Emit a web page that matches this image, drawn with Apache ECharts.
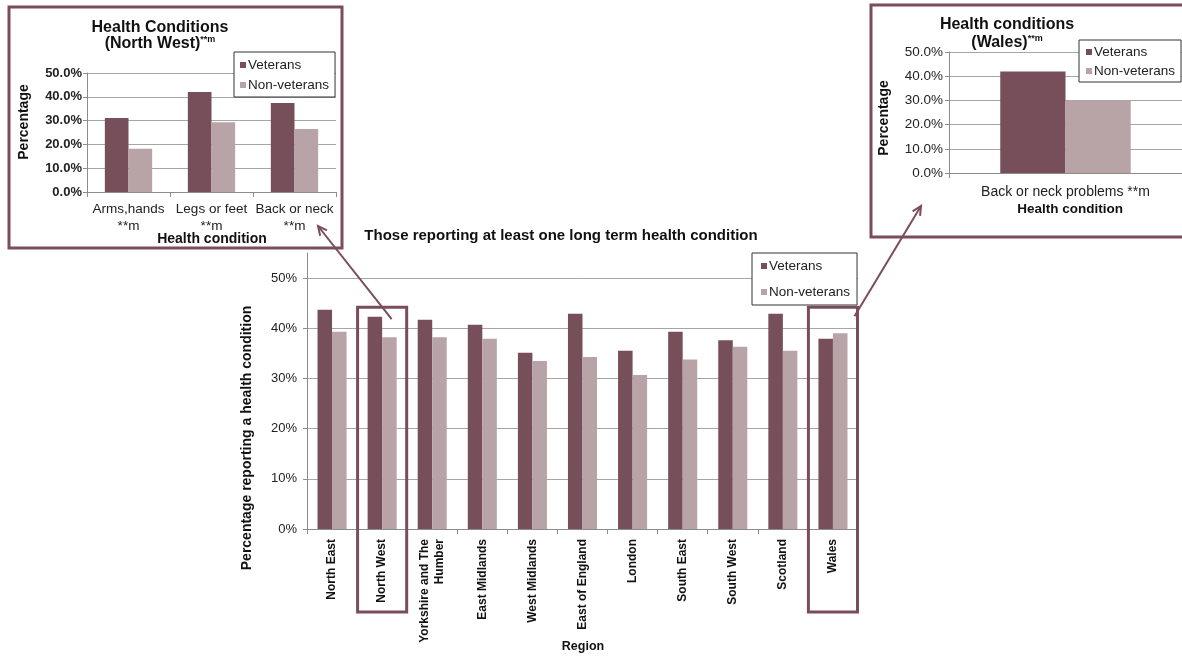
<!DOCTYPE html>
<html>
<head>
<meta charset="utf-8">
<script src="https://cdn.jsdelivr.net/npm/echarts@6/dist/echarts.min.js"></script>
<style>
  html, body { margin: 0; padding: 0; background: #fff; }
  #chart { width: 1182px; height: 656px; }
</style>
</head>
<body>
<div id="chart"></div>
<script>
// Regional share of people reporting at least one long term health condition (%)
const regions = ['North East', 'North West', 'Yorkshire and The\nHumber', 'East Midlands', 'West Midlands',
  'East of England', 'London', 'South East', 'South West', 'Scotland', 'Wales'];
const veterans = [43.7, 42.3, 41.7, 40.7, 35.1, 42.9, 35.5, 39.3, 37.6, 42.9, 37.9];
const nonVeterans = [39.3, 38.2, 38.2, 37.9, 33.5, 34.3, 30.7, 33.8, 36.3, 35.5, 39.0];

// North West breakdown by condition (%)
const nwConditions = ['Arms,hands\n**m', 'Legs or feet\n**m', 'Back or neck\n**m'];
const nwVeterans = [31.1, 42.0, 37.4];
const nwNonVeterans = [18.2, 29.3, 26.5];

// Wales breakdown by condition (%)
const walesConditions = ['Back or neck problems **m'];
const walesVeterans = [41.9];
const walesNonVeterans = [30.0];

const seriesNames = ['Veterans', 'Non-veterans'];

const FONT = "'Liberation Sans', Arial, sans-serif";
const VET = '#774F5B';
const NONVET = '#B8A3A7';
const FRAME = '#7A4C5C';
const GRID_LINE = '#A6A6A6';
const AXIS_LINE = '#8C8C8C';

const chart = echarts.init(document.getElementById('chart'), null, { renderer: 'canvas' });

function valueAxis(gridIndex, max, fmt, labelOpts) {
  return {
    type: 'value', gridIndex, min: 0, max, interval: 10,
    axisLine: { show: true, lineStyle: { color: AXIS_LINE, width: 1 } },
    axisTick: { show: true, length: 4, lineStyle: { color: AXIS_LINE } },
    axisLabel: Object.assign({ formatter: fmt, fontFamily: FONT, color: '#222', showMaxLabel: max % 10 === 0 }, labelOpts),
    splitLine: { show: true, showMaxLine: max % 10 === 0, lineStyle: { color: GRID_LINE, width: 1 } }
  };
}

function categoryAxis(gridIndex, data, labelOpts) {
  return {
    type: 'category', gridIndex, data,
    axisLine: { show: true, lineStyle: { color: AXIS_LINE, width: 1 } },
    axisTick: { show: true, length: 5, alignWithLabel: false, lineStyle: { color: AXIS_LINE } },
    axisLabel: Object.assign({ interval: 0, fontFamily: FONT, color: '#222' }, labelOpts),
    splitLine: { show: false }
  };
}

function barPair(xi, vets, nonVets, gap) {
  return [
    { name: seriesNames[0], type: 'bar', xAxisIndex: xi, yAxisIndex: xi, data: vets,
      itemStyle: { color: VET }, barGap: '0%', barCategoryGap: gap, animation: false },
    { name: seriesNames[1], type: 'bar', xAxisIndex: xi, yAxisIndex: xi, data: nonVets,
      itemStyle: { color: NONVET }, barGap: '0%', barCategoryGap: gap, animation: false }
  ];
}

function legendAt(left, top, gap, pad) {
  return {
    data: seriesNames, orient: 'vertical', left, top,
    itemWidth: 6, itemHeight: 6, itemGap: gap, icon: 'rect', padding: pad,
    borderColor: '#333', borderWidth: 1, backgroundColor: '#fff',
    textStyle: { fontFamily: FONT, fontSize: 13.5, color: '#222', padding: [0, 0, 0, -3] },
    selectedMode: false
  };
}

const option = {
  animation: false,
  backgroundColor: '#fff',
  grid: [
    { left: 307, right: 324, top: 253, bottom: 127 },
    { left: 87, top: 73, width: 249, height: 119 },
    { left: 949, top: 52, width: 242, height: 121 }
  ],
  xAxis: [
    categoryAxis(0, regions, { rotate: 90, fontWeight: 'bold', fontSize: 12, margin: 10, color: '#111', lineHeight: 15 }),
    categoryAxis(1, nwConditions, { fontSize: 13.5, margin: 9, lineHeight: 17 }),
    categoryAxis(2, walesConditions, { fontSize: 14, margin: 12 })
  ],
  yAxis: [
    valueAxis(0, 55, '{value}%', { fontSize: 13, margin: 10 }),
    valueAxis(1, 50, v => v.toFixed(1) + '%', { fontSize: 13, fontWeight: 'bold', margin: 5 }),
    valueAxis(2, 50, v => v.toFixed(1) + '%', { fontSize: 13.5, margin: 6 })
  ],
  legend: [
    legendAt(752, 253, 12, [6, 7, 6, 9]),
    legendAt(234, 52, 6, [6, 6, 5, 6]),
    legendAt(1079, 40, 5, [5, 6, 4, 7])
  ],
  series: [
    ...barPair(0, veterans, nonVeterans, '42%'),
    ...barPair(1, nwVeterans, nwNonVeterans, '43%'),
    ...barPair(2, walesVeterans, walesNonVeterans, '44%')
  ]
};
chart.setOption(option);

// ---- decorations: titles, axis titles, inset frames, highlight boxes and arrows ----
function label(text, x, y, size, opts) {
  return Object.assign({
    type: 'text', x, y, z: 20,
    style: { text, fontFamily: FONT, fontSize: size, fontWeight: 'bold', fill: '#111',
      align: 'center', verticalAlign: 'middle' }
  }, opts || {});
}

function titleWithMark(main, x, y) {
  return {
    type: 'text', x, y, z: 20,
    style: {
      text: '{b|' + main + '}{s|**m}',
      align: 'center', verticalAlign: 'middle',
      rich: {
        b: { fontFamily: FONT, fontSize: 16, fontWeight: 'bold', fill: '#111', lineHeight: 18 },
        s: { fontFamily: FONT, fontSize: 9, fontWeight: 'bold', fill: '#111', verticalAlign: 'top', lineHeight: 18 }
      }
    }
  };
}

function arrow(x1, y1, x2, y2) {
  const ang = Math.atan2(y2 - y1, x2 - x1);
  const L = 10, spread = 0.45;
  const p1 = [x2 - L * Math.cos(ang - spread), y2 - L * Math.sin(ang - spread)];
  const p2 = [x2 - L * Math.cos(ang + spread), y2 - L * Math.sin(ang + spread)];
  return [
    { type: 'line', z: 30, shape: { x1, y1, x2, y2 }, style: { stroke: FRAME, lineWidth: 2 } },
    { type: 'polyline', z: 30, shape: { points: [p1, [x2, y2], p2] }, style: { stroke: FRAME, lineWidth: 2, fill: null } }
  ];
}

function highlightBox(index) {
  const c0 = chart.convertToPixel({ gridIndex: 0 }, [0, 0]);
  const c1 = chart.convertToPixel({ gridIndex: 0 }, [1, 0]);
  const step = c1[0] - c0[0];
  const center = chart.convertToPixel({ gridIndex: 0 }, [index, 0]);
  const top = chart.convertToPixel({ gridIndex: 0 }, [index, 44.2])[1];
  const w = step * 0.98;
  return { x: center[0] - w / 2, y: top, w, h: center[1] + 83 - top };
}

const nwBox = highlightBox(regions.indexOf('North West'));
const waBox = highlightBox(regions.indexOf('Wales'));

const graphics = [
  // inset frames
  { type: 'rect', z: 25, shape: { x: 9, y: 7, width: 333, height: 241 }, style: { stroke: FRAME, lineWidth: 3, fill: null } },
  { type: 'rect', z: 25, shape: { x: 871, y: 5, width: 320, height: 232 }, style: { stroke: FRAME, lineWidth: 3, fill: null } },
  // highlight boxes around the regions shown in the insets
  { type: 'rect', z: 25, shape: { x: nwBox.x, y: nwBox.y, width: nwBox.w, height: nwBox.h }, style: { stroke: FRAME, lineWidth: 3, fill: null } },
  { type: 'rect', z: 25, shape: { x: waBox.x, y: waBox.y, width: waBox.w, height: waBox.h }, style: { stroke: FRAME, lineWidth: 3, fill: null } },
  ...arrow(nwBox.x + nwBox.w - 15, nwBox.y + 12, 318, 226),
  ...arrow(waBox.x + waBox.w - 3, waBox.y + 9, 921, 206),
  // main chart text
  label('Those reporting at least one long term health condition', 561, 236, 15),
  label('Percentage reporting a health condition', 247, 438, 14, { rotation: Math.PI / 2 }),
  label('Region', 583, 647, 12.5),
  // North West inset text
  label('Health Conditions', 160, 28, 16),
  titleWithMark('(North West)', 160, 44),
  label('Percentage', 24, 122, 14, { rotation: Math.PI / 2 }),
  label('Health condition', 212, 239, 14),
  // Wales inset text
  label('Health conditions', 1007, 25, 16),
  titleWithMark('(Wales)', 1007, 43),
  label('Percentage', 884, 118, 14, { rotation: Math.PI / 2 }),
  label('Health condition', 1070, 209, 13.5)
];

chart.setOption({ graphic: graphics });
</script>
</body>
</html>
